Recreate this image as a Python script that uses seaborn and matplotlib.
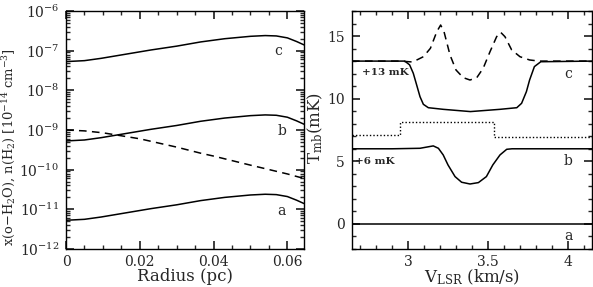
import numpy as np
import pandas as pd
import matplotlib
matplotlib.use("Agg")
import matplotlib.pyplot as plt
import matplotlib.ticker as mticker
import seaborn as sns

# --- left panel: abundance profiles vs radius ---
radius = [0.0, 0.005, 0.0095, 0.015, 0.023, 0.03, 0.0365, 0.043, 0.05, 0.054,
          0.057, 0.06, 0.0625, 0.0645]
prof_c = [5.3e-8, 5.6e-8, 6.4e-8, 7.8e-8, 1.04e-7, 1.3e-7, 1.66e-7, 2.0e-7,
          2.3e-7, 2.4e-7, 2.35e-7, 2.1e-7, 1.7e-7, 1.4e-7]
prof_b = [v / 100 for v in prof_c]
prof_a = [v / 1e4 for v in prof_c]
radius_nh2 = [0.0, 0.005, 0.01, 0.014, 0.02, 0.03, 0.0365, 0.04, 0.05, 0.06, 0.0645]
dens_nh2 = [1.0e-9, 9.5e-10, 8.5e-10, 7.4e-10, 6.0e-10, 3.7e-10, 2.6e-10,
            2.2e-10, 1.3e-10, 7.8e-11, 6.0e-11]

# --- right panel: line profiles ---
v_b = [2.65, 2.9, 3.075, 3.158, 3.19, 3.22, 3.25, 3.294, 3.335, 3.3875, 3.44,
       3.49, 3.53, 3.575, 3.617, 3.65, 4.15]
t_b = [6.0, 6.0, 6.04, 6.23, 6.04, 5.51, 4.71, 3.78, 3.33, 3.19, 3.30, 3.78,
       4.71, 5.51, 5.96, 6.0, 6.0]
v_c = [2.65, 2.98, 3.01, 3.033, 3.054, 3.075, 3.096, 3.127, 3.22, 3.39, 3.575,
       3.68, 3.71, 3.74, 3.76, 3.79, 3.83, 4.15]
t_c = [13.0, 13.0, 12.7, 12.03, 11.1, 10.16, 9.55, 9.28, 9.15, 8.97, 9.15,
       9.28, 9.63, 10.56, 11.49, 12.56, 12.95, 13.0]
v_dash = [2.65, 2.95, 3.03, 3.096, 3.14, 3.18, 3.204, 3.225, 3.2625, 3.30,
          3.345, 3.3875, 3.43, 3.47, 3.5125, 3.554, 3.579, 3.606, 3.648, 3.70,
          3.76, 3.82, 4.15]
t_dash = [13.0, 13.0, 12.93, 13.35, 14.02, 15.35, 15.88, 15.35, 13.49, 12.29,
          11.68, 11.49, 11.68, 12.43, 13.75, 14.95, 15.3, 14.95, 13.89, 13.35,
          13.09, 13.0, 13.0]
v_dot = [2.65, 2.953, 3.537, 4.15]
t_dot = [7.07, 8.14, 6.91, 6.91]
v_a = [2.65, 4.15]
t_a = [0.0, 0.0]

sns.set_theme(style="ticks")
plt.rcParams["font.family"] = ["DejaVu Serif"]
plt.rcParams.update({
    "mathtext.fontset": "dejavuserif",
    "font.size": 10,
    "axes.linewidth": 1.0,
    "axes.edgecolor": "black",
    "xtick.direction": "in",
    "ytick.direction": "in",
    "xtick.top": True,
    "ytick.right": True,
    "xtick.major.size": 6,
    "ytick.major.size": 6,
    "xtick.minor.size": 3,
    "ytick.minor.size": 3,
    "xtick.major.pad": 4,
    "ytick.major.pad": 5,
    "xtick.labelsize": 10,
    "ytick.labelsize": 10,
})

fig = plt.figure(figsize=(5.93, 2.87), dpi=100)
ax1 = fig.add_axes([0.1113, 0.1324, 0.4013, 0.8293])
ax2 = fig.add_axes([0.5936, 0.1324, 0.4047, 0.8293])

lw = 1.1
for yy in (prof_c, prof_b, prof_a):
    sns.lineplot(x=radius, y=yy, ax=ax1, color="black", lw=lw,
                 sort=False, estimator=None)
sns.lineplot(x=radius_nh2, y=dens_nh2, ax=ax1, color="black", lw=lw,
             sort=False, estimator=None, linestyle=(0, (5, 3.5)))
ax1.set_yscale("log")
ax1.set_xlim(0, 0.0645)
ax1.set_ylim(1e-12, 1e-6)
ax1.xaxis.set_major_locator(mticker.MultipleLocator(0.02))
ax1.xaxis.set_minor_locator(mticker.MultipleLocator(0.005))
ax1.xaxis.set_major_formatter(mticker.FuncFormatter(lambda v, p: f"{v:g}"))
ax1.yaxis.set_minor_locator(mticker.LogLocator(base=10, subs=np.arange(2, 10), numticks=20))
ax1.yaxis.set_minor_formatter(mticker.NullFormatter())
ax1.set_xlabel("Radius (pc)")
ax1.set_ylabel(r"x(o$-$H$_2$O), n(H$_2$) [10$^{-14}$ cm$^{-3}$]", fontsize=9.4)
ax1.xaxis.set_label_coords(0.5, -0.08)
ax1.yaxis.set_label_coords(-0.2, 0.43)
ax1.text(0.0575, 1.0e-7, "c", ha="center", va="center")
ax1.text(0.0585, 9.5e-10, "b", ha="center", va="center")
ax1.text(0.0585, 9.0e-12, "a", ha="center", va="center")

for xx, yy in ((v_a, t_a), (v_b, t_b), (v_c, t_c)):
    sns.lineplot(x=xx, y=yy, ax=ax2, color="black", lw=lw,
                 sort=False, estimator=None)
sns.lineplot(x=v_dash, y=t_dash, ax=ax2, color="black", lw=lw, sort=False,
             estimator=None, linestyle=(0, (5, 3.5)))
sns.lineplot(x=v_dot, y=t_dot, ax=ax2, color="black", lw=1.0, sort=False,
             estimator=None, linestyle=(0, (1, 1.5)), drawstyle="steps-post")
ax2.set_xlim(2.65, 4.15)
ax2.set_ylim(-2, 17)
ax2.xaxis.set_major_locator(mticker.MultipleLocator(0.5))
ax2.xaxis.set_minor_locator(mticker.MultipleLocator(0.1))
ax2.xaxis.set_major_formatter(mticker.FuncFormatter(lambda v, p: f"{v:g}"))
ax2.yaxis.set_major_locator(mticker.MultipleLocator(5))
ax2.yaxis.set_minor_locator(mticker.MultipleLocator(1))
ax2.set_xlabel(r"V$_{\rm LSR}$ (km/s)")
ax2.set_ylabel(r"T$_{\rm mb}$(mK)")
ax2.xaxis.set_label_coords(0.5, -0.08)
ax2.yaxis.set_label_coords(-0.112, 0.51)
ax2.text(2.71, 12.05, "+13 mK", ha="left", va="center", fontsize=7.5, fontweight="bold")
ax2.text(2.67, 4.97, "+6 mK", ha="left", va="center", fontsize=7.5, fontweight="bold")
ax2.text(4.0, 12.0, "c", ha="center", va="center")
ax2.text(4.0, 5.0, "b", ha="center", va="center")
ax2.text(4.0, -1.0, "a", ha="center", va="center")

fig.savefig("out.png", dpi=100)
